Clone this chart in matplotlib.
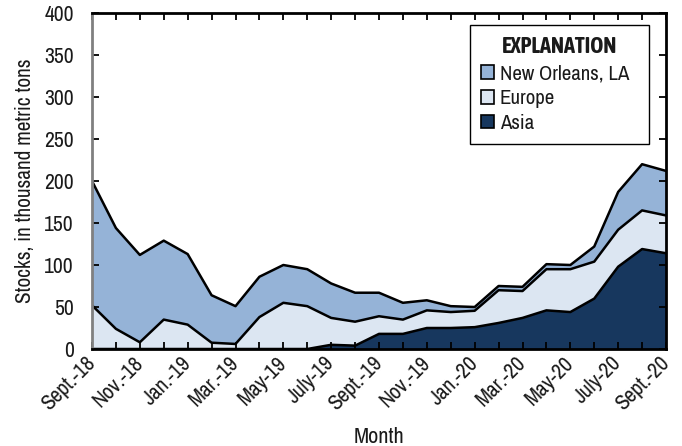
import matplotlib
matplotlib.use("Agg")
import matplotlib.pyplot as plt
from matplotlib.patches import Patch
import numpy as np

plt.rcParams['font.family'] = ['Archivo Narrow', 'Liberation Sans Narrow', 'Liberation Sans', 'DejaVu Sans']

months = ["Sept.-18", "Oct.-18", "Nov.-18", "Dec.-18", "Jan.-19", "Feb.-19", "Mar.-19",
          "Apr.-19", "May-19", "June-19", "July-19", "Aug.-19", "Sept.-19", "Oct.-19",
          "Nov.-19", "Dec.-19", "Jan.-20", "Feb.-20", "Mar.-20", "Apr.-20", "May-20",
          "June-20", "July-20", "Aug.-20", "Sept.-20"]
tick_labels = ["Sept.-18", "Nov.-18", "Jan.-19", "Mar.-19", "May-19", "July-19", "Sept.-19",
               "Nov.-19", "Jan.-20", "Mar.-20", "May-20", "July-20", "Sept.-20"]

asia = [0, 0, 0, 0, 0, 0, 0, 0, 0, 0, 5, 4, 18, 18, 25, 25, 26, 31, 37, 46, 44, 60, 98, 119, 114]
europe = [52, 24, 8, 35, 29, 7.5, 6, 38, 55, 51, 32, 28.5, 21, 17, 21, 19, 19.5, 39, 32, 49, 51, 44, 44, 46, 45]
new_orleans = [148, 120, 104, 94, 84, 56.5, 45, 48, 45, 44, 41, 34.5, 28, 20, 12, 7, 4.5, 5, 5, 6, 5, 18, 45, 55, 53]

c_no = '#95B3D7'
c_eu = '#DCE6F2'
c_as = '#17375E'
txt = '#1a1a1a'

fig = plt.figure(figsize=(6.82, 4.46), dpi=100)
ax = fig.add_axes([92/682, 1-349/446, (666-92)/682, (349-13)/446])

x = np.arange(len(months))
a = np.array(asia, float)
e = np.array(europe, float)
n = np.array(new_orleans, float)
ax.stackplot(x, a, e, n, colors=[c_as, c_eu, c_no], linewidth=0)
ax.plot(x, a, color='black', lw=1.8)
ax.plot(x, a + e, color='black', lw=1.8)
ax.plot(x, a + e + n, color='black', lw=1.8)

ax.set_xlim(0, len(months) - 1)
ax.set_ylim(0, 400)
ax.set_yticks(np.arange(0, 401, 50))
ax.set_xticks(x[::2])
ax.set_xticklabels(tick_labels, rotation=45, ha='right', va='center', rotation_mode='anchor',
                   fontsize=15.5, color=txt)
ax.set_xticks(x, minor=True)
ax.tick_params(axis='x', which='both', direction='in', length=5, width=1.3, top=True, bottom=True,
               color='black', pad=8)
ax.tick_params(axis='y', which='both', direction='in', length=5, width=1.3, left=True, right=True,
               labelsize=15.5, labelcolor=txt, pad=13)

for s in ['top', 'right', 'bottom']:
    ax.spines[s].set_color('black')
    ax.spines[s].set_linewidth(2)
ax.spines['left'].set_color('#808080')
ax.spines['left'].set_linewidth(2)
for tl in ax.yaxis.get_majorticklines()[0::2]:
    tl.set_color('#808080')
for tl in ax.yaxis.get_majorticklines()[1::2]:
    tl.set_color('black')

ax.set_xlabel('Month', fontsize=16, labelpad=9, color=txt)
ax.set_ylabel('Stocks, in thousand metric tons', fontsize=15.3, labelpad=7, color=txt)

handles = [Patch(facecolor=c_no, edgecolor='black', lw=1.2),
           Patch(facecolor=c_eu, edgecolor='black', lw=1.2),
           Patch(facecolor=c_as, edgecolor='black', lw=1.2)]
x0 = (470 - 92) / 574
w = (649 - 470) / 574
y1 = (349 - 25) / 336
leg = ax.legend(handles, ['New Orleans, LA', 'Europe', 'Asia'], title='EXPLANATION',
                loc='upper left', bbox_to_anchor=(x0, y1 - 0.5, w, 0.5), mode='expand',
                fontsize=15,
                title_fontproperties={'family': ['Asap Condensed', 'Archivo Narrow'],
                                      'weight': 'bold', 'size': 16},
                frameon=True, fancybox=False, edgecolor='black', framealpha=1,
                handlelength=0.62, handleheight=0.62, handletextpad=0.25, borderpad=0.55,
                labelspacing=0.28, borderaxespad=0)
leg.get_frame().set_linewidth(1)
for t in leg.get_texts():
    t.set_color(txt)
leg.get_title().set_color(txt)

fig.savefig('out.png', dpi=100)
